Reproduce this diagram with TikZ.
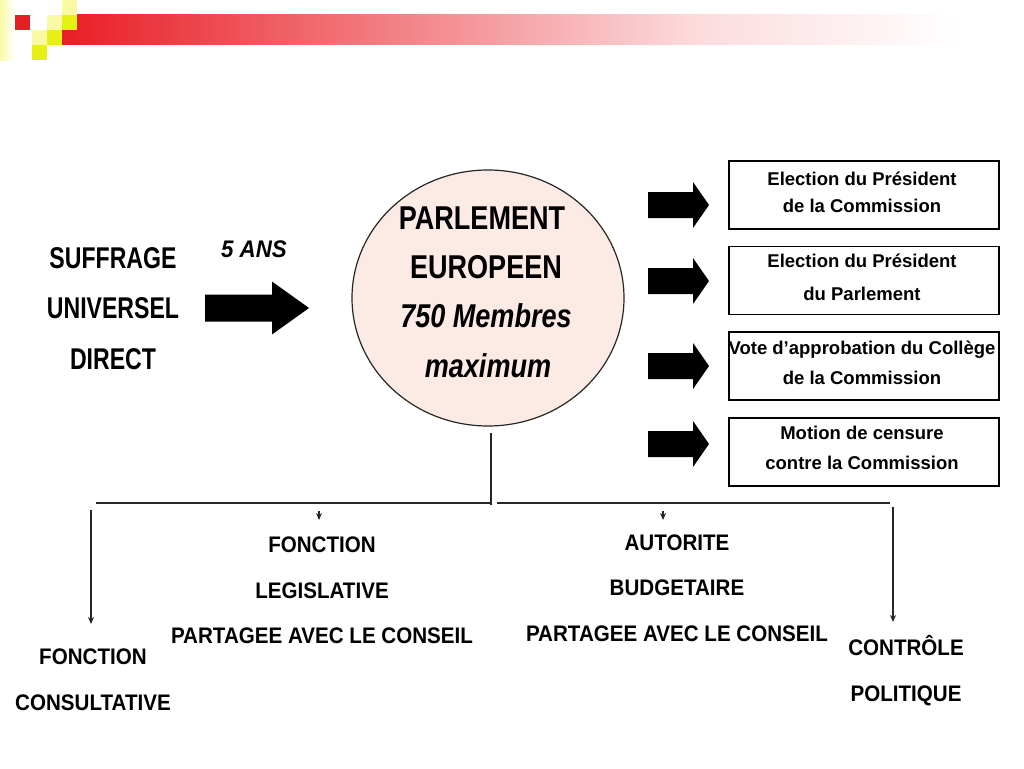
\documentclass[tikz,border=0pt]{standalone}
\usepackage{fontspec}
\setmainfont{Liberation Sans}
\newfontfamily\fcirc[FakeStretch=0.82]{Liberation Sans}
\newfontfamily\fleft[FakeStretch=0.77]{Liberation Sans}
\newfontfamily\fbot[FakeStretch=0.915]{Liberation Sans}
\newfontfamily\fans[FakeStretch=0.93]{Liberation Sans}
\usetikzlibrary{arrows.meta,shapes.geometric}
\definecolor{barred}{RGB}{232,30,37}
\definecolor{barmid}{RGB}{252,220,222}
\definecolor{yelb}{RGB}{230,240,20}
\definecolor{yelp}{RGB}{250,250,165}
\definecolor{circfill}{RGB}{252,234,228}
\pgfdeclarehorizontalshading{barshade}{100bp}{color(0bp)=(barred); color(25bp)=(barred); color(58.2bp)=(barmid); color(71.7bp)=(white); color(100bp)=(white)}
\tikzset{
  line/.style={line width=1.3pt, draw=black!85},
  arr/.style={line, -{Stealth[length=7pt,width=6pt]}},
  infobox/.style={draw=black, line width=1.2pt, minimum width=270pt, minimum height=68pt, inner sep=0pt},
  boxtext/.style={align=center, inner sep=0pt, font=\bfseries\fontsize{18.5}{30}\selectfont},
  bottext/.style={align=center, inner sep=0pt, font=\fbot\bfseries\fontsize{22.5}{45.5}\selectfont},
  smallarrow/.pic={\fill[black] (0,-13) -- (45,-13) -- (45,-23) -- (61,0) -- (45,23) -- (45,13) -- (0,13) -- cycle;},
  bigarrow/.pic={\fill[black] (0,-13.5) -- (67,-13.5) -- (67,-26.5) -- (104,0) -- (67,26.5) -- (67,13.5) -- (0,13.5) -- cycle;}
}
\begin{document}
\begin{tikzpicture}[x=1pt,y=-1pt]
\useasboundingbox (0,0) rectangle (1024,768);
\fill[white] (0,0) rectangle (1024,768);
% header decoration
\shade[left color=yelp, right color=white] (0,0) rectangle (15,60);
\shade[shading=barshade] (62,15) rectangle (1024,45);
\fill[barred] (15,15) rectangle (30,30);
\fill[yelp] (62,0) rectangle (77,15);
\fill[yelb] (62,15) rectangle (77,30);
\fill[yelp] (47,15) rectangle (62,30);
\fill[yelb] (47,30) rectangle (62,45);
\fill[yelp] (32,30) rectangle (47,45);
\fill[yelb] (32,45) rectangle (47,60);

% left block
\node[align=center, inner sep=0pt, font=\fleft\bfseries\fontsize{30}{50.5}\selectfont] (suff) at (113,308.5) {SUFFRAGE\\UNIVERSEL\\DIRECT};
\node[inner sep=0pt, font=\fans\bfseries\itshape\fontsize{24}{28}\selectfont] (ans) at (254,249) {5 ANS};
\pic at (205,308) {bigarrow};

% parliament
\node[ellipse, draw=black!85, line width=1.2pt, fill=circfill, minimum width=272pt, minimum height=256pt, inner sep=0pt] (parl) at (488,298) {};
\node[align=center, inner sep=0pt, font=\fcirc\bfseries\fontsize{33}{49.3}\selectfont] (parltxt) at (486,292) {PARLEMENT\hspace*{8pt}\\EUROPEEN\\\itshape 750 Membres\\\itshape \hspace*{4pt}maximum};

% right boxes
\node[infobox] (b1) at (864,195) {};
\node[infobox] (b2) at (864,280.5) {};
\node[infobox] (b3) at (864,366) {};
\node[infobox] (b4) at (864,452) {};
\node[boxtext, font=\bfseries\fontsize{18.5}{27}\selectfont] (t1) at (862,192.5) {Election du Président\\de la Commission};
\node[boxtext, font=\bfseries\fontsize{18.5}{33}\selectfont] (t2) at (862,277.5) {Election du Président\\du Parlement};
\node[boxtext] (t3) at (862,363) {Vote d’approbation du Collège\\de la Commission};
\node[boxtext] (t4) at (862,448) {Motion de censure\\contre la Commission};
\pic at (648,205) {smallarrow};
\pic at (648,281) {smallarrow};
\pic at (648,366) {smallarrow};
\pic at (648,444) {smallarrow};

% bottom texts
\node[bottext] (leg) at (322,590.5) {FONCTION\\LEGISLATIVE\\PARTAGEE AVEC LE CONSEIL};
\node[bottext] (bud) at (677,588) {AUTORITE\\BUDGETAIRE\\PARTAGEE AVEC LE CONSEIL};
\node[bottext] (cons) at (93,679.5) {FONCTION\\CONSULTATIVE};
\node[bottext] (ctrl) at (906,670.5) {CONTRÔLE\\POLITIQUE};

% connectors
\coordinate (vtop) at (491,433);
\coordinate (vbot) at (491,505);
\coordinate (hl) at (96,503);
\coordinate (hm) at (491,503);
\coordinate (hr1) at (497,503);
\coordinate (hr2) at (890,503);
\draw[line] (vtop) -- (vbot);
\draw[line] (hl) -- (hm);
\draw[line] (hr1) -- (hr2);
\coordinate (a1s) at (91,510);
\coordinate (a1e) at (91,624);
\coordinate (a2s) at (319,511);
\coordinate (a2e) at (319,520);
\coordinate (a3s) at (663,511);
\coordinate (a3e) at (663,520);
\coordinate (a4s) at (893,507);
\coordinate (a4e) at (893,622);
\draw[arr] (a1s) -- (a1e);
\draw[arr] (a2s) -- (a2e);
\draw[arr] (a3s) -- (a3e);
\draw[arr] (a4s) -- (a4e);
\end{tikzpicture}
\end{document}
